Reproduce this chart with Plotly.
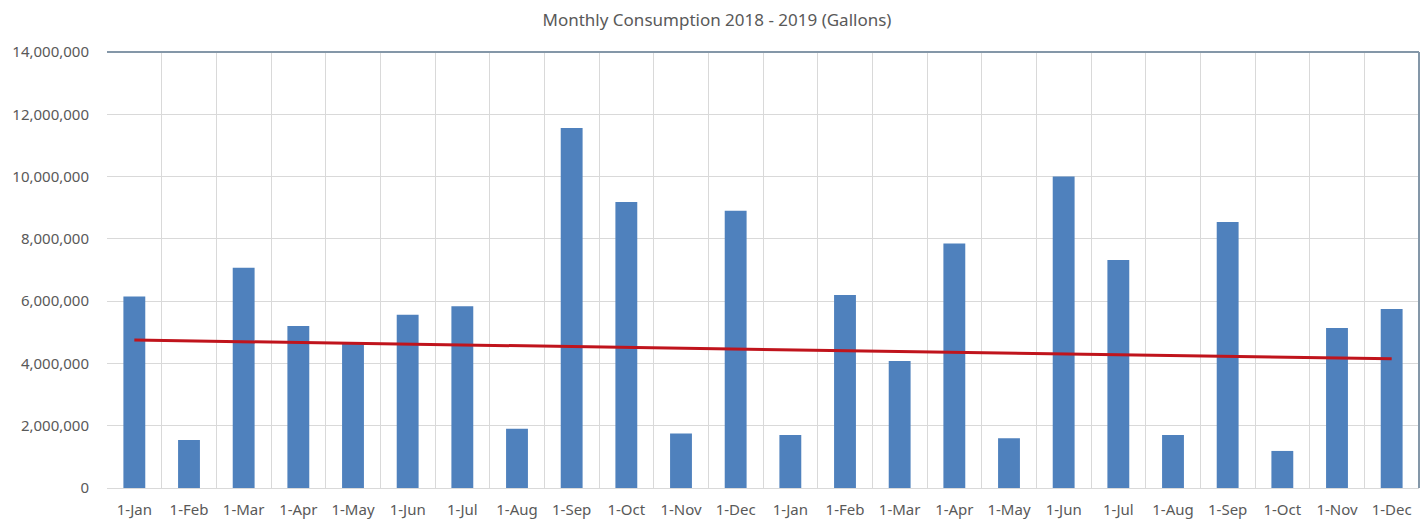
import plotly.graph_objects as go

months = ["1-Jan", "1-Feb", "1-Mar", "1-Apr", "1-May", "1-Jun", "1-Jul", "1-Aug",
          "1-Sep", "1-Oct", "1-Nov", "1-Dec",
          "1-Jan", "1-Feb", "1-Mar", "1-Apr", "1-May", "1-Jun", "1-Jul", "1-Aug",
          "1-Sep", "1-Oct", "1-Nov", "1-Dec"]
consumption = [6150000, 1540000, 7070000, 5200000, 4650000, 5560000, 5840000, 1900000,
               11560000, 9180000, 1750000, 8900000,
               1700000, 6200000, 4080000, 7850000, 1600000, 10000000, 7320000, 1700000,
               8540000, 1190000, 5140000, 5750000]
trend_start = 4750000
trend_end = 4150000
y_ticks = [0, 2000000, 4000000, 6000000, 8000000, 10000000, 12000000, 14000000]

x = list(range(len(months)))
font = "Noto Sans"
grey = "#595959"

W, H = 1420, 515

fig = go.Figure()
fig.add_trace(go.Bar(x=x, y=consumption, marker=dict(color="#4f81bd", line=dict(width=0)),
                     width=0.40, showlegend=False))
fig.add_trace(go.Scatter(x=[x[0], x[-1]], y=[trend_start, trend_end], mode="lines",
                         line=dict(color="#c0141c", width=3), showlegend=False))

fig.update_layout(
    width=W, height=H,
    margin=dict(l=99, r=9, t=44, b=35, autoexpand=False),
    paper_bgcolor="white", plot_bgcolor="white",
    title=dict(text="Monthly Consumption 2018 - 2019 (Gallons)", x=(717 - 8) / W, xanchor="center",
               y=1 - 12 / H, yanchor="middle",
               font=dict(family=font, size=17, color=grey)),
    font=dict(family=font, size=15, color=grey),
    xaxis=dict(range=[-0.5, 23.5], tickmode="array", tickvals=x, ticktext=months,
               automargin=False,
               showgrid=False, zeroline=False, showline=True, linecolor="#d9d9d9",
               ticks="", ticklabelstandoff=8,
               tickfont=dict(family=font, size=15, color=grey),
               minor=dict(tickmode="array", tickvals=[i - 0.5 for i in range(25)],
                          showgrid=True, gridcolor="#d9d9d9", gridwidth=1, ticks="")),
    yaxis=dict(range=[0, 14000000], tickmode="array", tickvals=y_ticks,
               ticktext=[f"{v:,}" for v in y_ticks], automargin=False,
               showgrid=True, gridcolor="#d9d9d9", gridwidth=1,
               zeroline=False, showline=False, ticks="", ticklabelstandoff=17,
               tickfont=dict(family=font, size=15, color=grey)),
    shapes=[
        dict(type="line", xref="paper", yref="paper", x0=0, x1=1, y0=1, y1=1,
             line=dict(color="#8497a8", width=2)),
        dict(type="line", xref="paper", yref="paper", x0=1, x1=1, y0=0, y1=1,
             line=dict(color="#8497a8", width=2)),
    ],
)

fig.write_html("out.html")
